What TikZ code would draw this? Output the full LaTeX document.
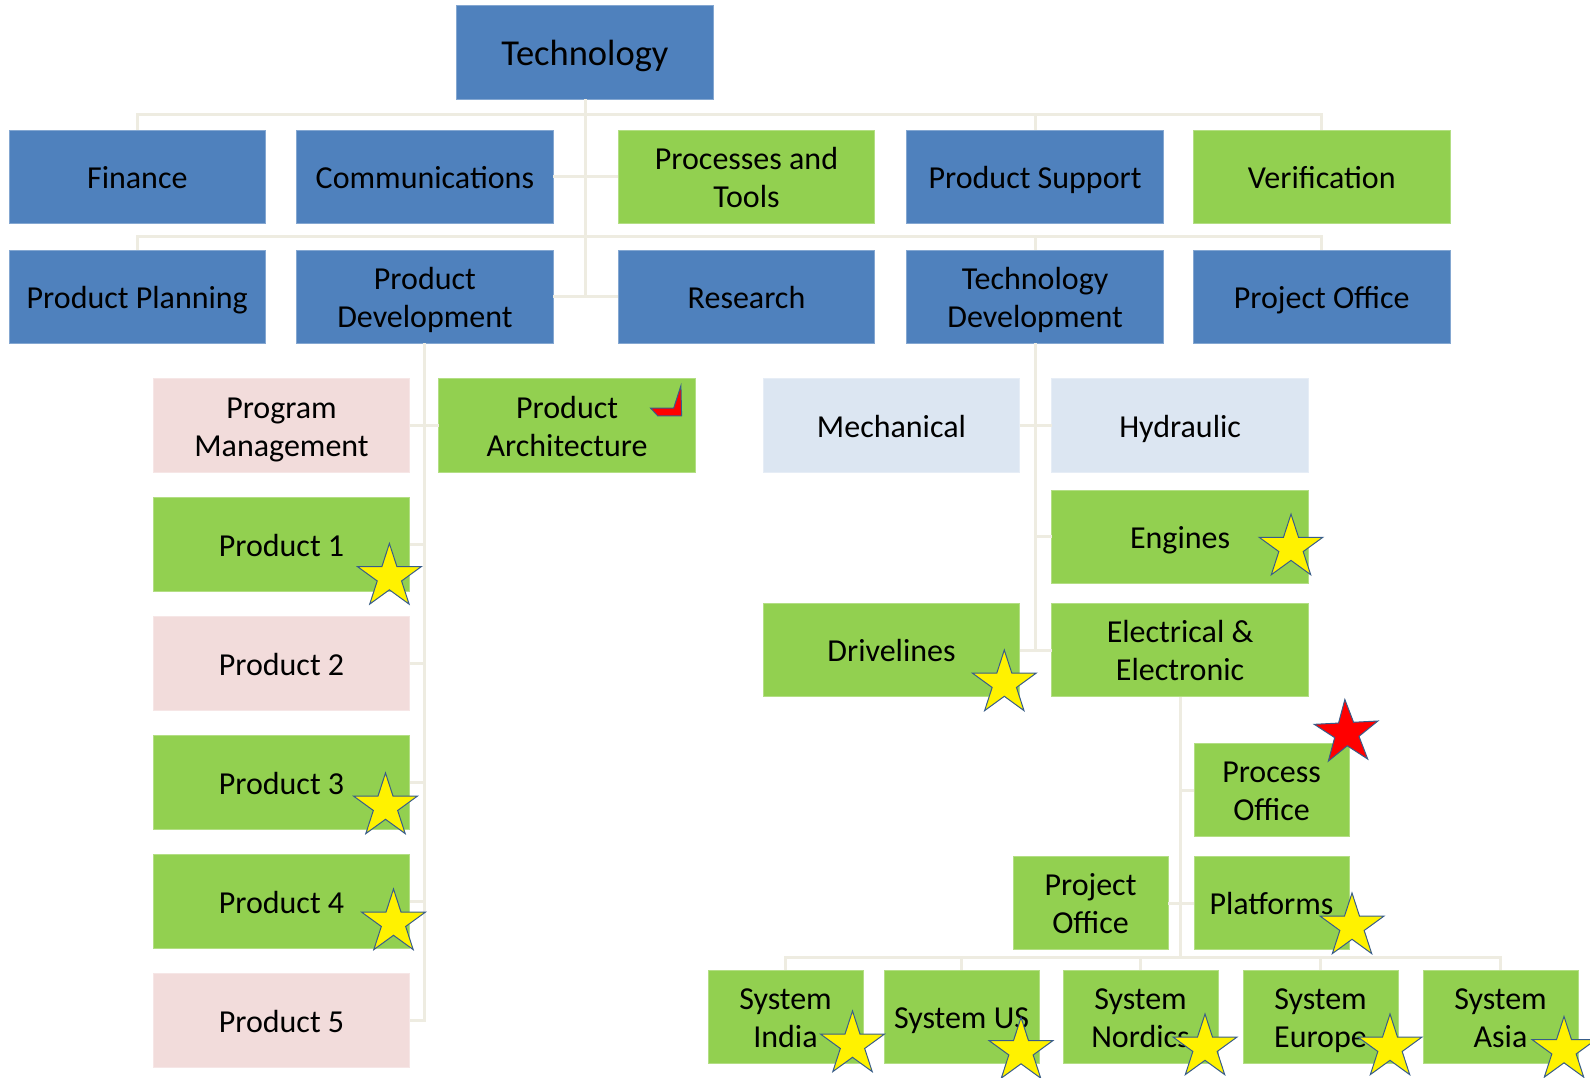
\documentclass[tikz,border=0pt]{standalone}
\usepackage{fontspec}
\setmainfont{Carlito}
\usetikzlibrary{positioning}
\usetikzlibrary{shapes.geometric}

\definecolor{orgblue}{HTML}{4F81BD}
\definecolor{orggreen}{HTML}{92D050}
\definecolor{orgpink}{HTML}{F2DCDB}
\definecolor{orglight}{HTML}{DCE6F2}
\definecolor{orgline}{HTML}{EEECE1}
\definecolor{staredge}{HTML}{385D8A}

\tikzset{
  unit/.style={rectangle, inner sep=2pt, outer sep=0pt, align=center,
    minimum width=256.6pt, minimum height=93.3pt, line width=1pt,
    text height=25pt, text depth=2pt,
    font=\fontsize{32}{38}\selectfont},
  twoline/.style={text height=63pt},
  blueunit/.style={unit, fill=orgblue, draw=orgblue!70!white},
  greenunit/.style={unit, fill=orggreen, draw=orggreen!70!white},
  pinkunit/.style={unit, fill=orgpink, draw=orgpink!70!white},
  lightunit/.style={unit, fill=orglight, draw=orglight!70!white},
  narrow/.style={minimum width=155pt},
  link/.style={draw=orgline, line width=3pt},
  award/.style={star, star points=5, star point ratio=2.618, minimum size=67pt,
    inner sep=0pt, fill=yellow, draw=staredge, line width=1pt},
  redaward/.style={award, fill=red},
  redtick/.style={fill=red, draw=staredge, line width=1pt}
}

\begin{document}
\begin{tikzpicture}[x=1pt, y=-1pt]
        \useasboundingbox (0,0) rectangle (1590,1077);

        % Head
        \node[blueunit, font=\fontsize{36.5}{44}\selectfont, text height=28pt] (tech) at (585,52.5) {Technology};

        % First row
        \node[blueunit] (fin) at (137.3,176.7) {Finance};
        \node[blueunit, right = 31pt of fin] (comm) {Communications};
        \node[greenunit, twoline, right = 65pt of comm] (proc) {Processes and\\Tools};
        \node[blueunit, right = 32pt of proc] (supp) {Product Support};
        \node[greenunit, right = 30pt of supp] (verif) {Verification};

        % Second row
        \node[blueunit, below = 26.7pt of fin] (plan) {Product Planning};
        \node[blueunit, twoline, below = 26.7pt of comm] (pdev) {Product\\Development};
        \node[blueunit, below = 26.7pt of proc] (res) {Research};
        \node[blueunit, twoline, below = 26.7pt of supp] (tdev) {Technology\\Development};
        \node[blueunit, below = 26.7pt of verif] (poff) {Project Office};

        % Product development
        \node[pinkunit, twoline] (prog) at (281.5,425.5) {Program\\Management};
        \node[greenunit, twoline, right = 29pt of prog] (arch) {Product\\Architecture};
        \node[greenunit, below = 25.7pt of prog] (prod1) {Product 1};
        \node[pinkunit, below = 25.7pt of prod1] (prod2) {Product 2};
        \node[greenunit, below = 25.7pt of prod2] (prod3) {Product 3};
        \node[greenunit, below = 25.7pt of prod3] (prod4) {Product 4};
        \node[pinkunit, below = 25.7pt of prod4] (prod5) {Product 5};

        % Technology development
        \node[lightunit] (mech) at (891.5,425.5) {Mechanical};
        \node[lightunit, right = 32pt of mech] (hyd) {Hydraulic};
        \node[greenunit, below = 18pt of hyd] (eng) {Engines};
        \node[greenunit, twoline, below = 20pt of eng] (elec) {Electrical \&\\Electronic};
        \node[greenunit, left = 32pt of elec] (drive) {Drivelines};

        % Electrical and electronic
        \node[greenunit, narrow, twoline] (procoff) at (1271.5,790) {Process\\Office};
        \node[greenunit, narrow, below = 20pt of procoff] (plat) {Platforms};
        \node[greenunit, narrow, twoline, left = 26pt of plat] (projoff) {Project\\Office};
        \node[greenunit, narrow, twoline] (sysin) at (785.5,1017) {System\\India};
        \node[greenunit, narrow, right = 21pt of sysin] (sysus) {System US};
        \node[greenunit, narrow, twoline, right = 24pt of sysus] (sysnor) {System\\Nordics};
        \node[greenunit, narrow, twoline, right = 25pt of sysnor] (syseu) {System\\Europe};
        \node[greenunit, narrow, twoline, right = 25pt of syseu] (sysas) {System\\Asia};

        % Connectors
        \draw[link] (tech.south) -- (tech.south |- res.west);
        \draw[link] (fin.north) -- ++(0,-16) -| (verif.north);
        \draw[link] (supp.north) -- ++(0,-16);
        \draw[link] (comm.east) -- (proc.west);
        \draw[link] (plan.north) -- ++(0,-13.3) -| (poff.north);
        \draw[link] (tdev.north) -- ++(0,-13.3);
        \draw[link] (pdev.east) -- (res.west);

        \draw[link] (pdev.south) |- (prod5.east);
        \draw[link] (prog.east) -- (arch.west);
        \draw[link] (prod1.east) -- (prod1.east -| pdev.south);
        \draw[link] (prod2.east) -- (prod2.east -| pdev.south);
        \draw[link] (prod3.east) -- (prod3.east -| pdev.south);
        \draw[link] (prod4.east) -- (prod4.east -| pdev.south);

        \draw[link] (tdev.south) -- (tdev.south |- elec.west);
        \draw[link] (mech.east) -- (hyd.west);
        \draw[link] (eng.west) -- (eng.west -| tdev.south);
        \draw[link] (drive.east) -- (elec.west);

        \draw[link] (sysin.north) -- ++(0,-13) coordinate (ebus) -| (sysas.north);
        \draw[link] (sysus.north) -- ++(0,-13);
        \draw[link] (sysnor.north) -- ++(0,-13);
        \draw[link] (syseu.north) -- ++(0,-13);
        \draw[link] (elec.south) -- (elec.south |- ebus);
        \draw[link] (procoff.west) -- (procoff.west -| elec.south);
        \draw[link] (projoff.east) -- (plat.west);

        % Stars
        \node[award] (star1) at (389.4,577) {};
        \node[award] (star3) at (385.5,806.5) {};
        \node[award] (star4) at (393.5,922.5) {};
        \node[award] (stareng) at (1291,547.6) {};
        \node[award] (stardrv) at (1004.3,683.5) {};
        \node[award] (starplat) at (1352,926.5) {};
        \node[redaward, rotate=3] (starproc) at (1346.6,733) {};
        \node[award] (starin) at (852.5,1044.5) {};
        \node[award] (starus) at (1021,1051) {};
        \node[award] (starnor) at (1205,1047.5) {};
        \node[award] (stareu) at (1390,1047.5) {};
        \node[award] (staras) at (1564,1050) {};

        % Red tick on architecture
        \begin{scope}[shift={(arch.north east)}]
            \filldraw[redtick] (-44.9,29.2) -- (-21.7,29.2) -- (-14.5,6.9) -- (-13.8,36.9) -- (-37.7,36.9) -- cycle;
        \end{scope}
    \end{tikzpicture}
\end{document}
